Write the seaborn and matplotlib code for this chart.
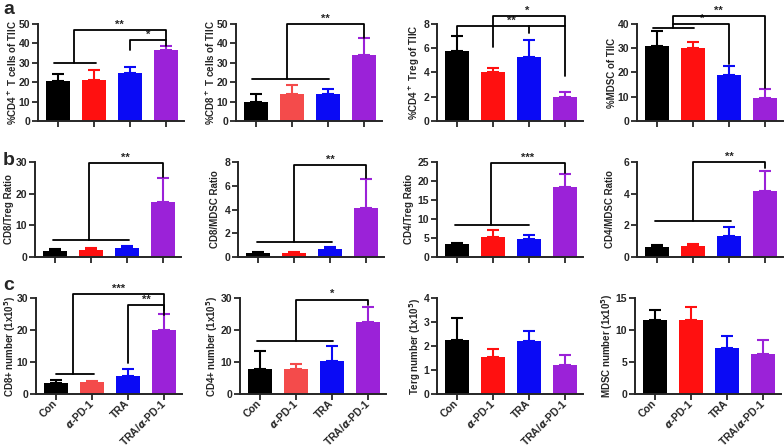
import numpy as np
import pandas as pd
import matplotlib
matplotlib.use("Agg")
import matplotlib.pyplot as plt
import seaborn as sns

groups = ["Con", "aPD1", "TRA", "TRA/aPD1"]
tick_labels = ["Con", r"$\alpha$-PD-1", "TRA", r"TRA/$\alpha$-PD-1"]

ylabels = [
    "%CD4$^+$ T cells of TIIC", "%CD8$^+$ T cells of TIIC",
    "%CD4$^+$ Treg of TIIC", "%MDSC of TIIC",
    "CD8/Treg Ratio", "CD8/MDSC Ratio", "CD4/Treg Ratio", "CD4/MDSC Ratio",
    "CD8+ number (1x10$^5$)", "CD4+ number (1x10$^5$)",
    "Terg number (1x10$^5$)", "MDSC number (1x10$^5$)",
]

means = [
    [20.5, 21.0, 24.5, 36.5],
    [10.0, 13.7, 14.0, 34.0],
    [5.8, 4.0, 5.25, 2.0],
    [30.8, 30.2, 18.8, 9.5],
    [1.8, 2.3, 2.7, 17.5],
    [0.3, 0.3, 0.7, 4.15],
    [3.5, 5.3, 4.8, 18.3],
    [0.65, 0.67, 1.35, 4.15],
    [3.3, 3.7, 5.7, 20.0],
    [7.8, 7.7, 10.2, 22.5],
    [2.25, 1.55, 2.22, 1.22],
    [11.5, 11.6, 7.2, 6.2],
]

errs = [
    [3.5, 5.5, 3.5, 2.0],
    [4.0, 5.0, 2.7, 9.0],
    [1.2, 0.35, 1.4, 0.4],
    [6.5, 2.5, 4.0, 3.8],
    [0.8, 0.4, 0.8, 7.5],
    [0.1, 0.1, 0.15, 2.45],
    [0.3, 1.7, 1.1, 3.5],
    [0.08, 0.15, 0.55, 1.3],
    [1.1, 0.4, 2.1, 5.0],
    [5.5, 1.6, 4.8, 4.8],
    [0.9, 0.33, 0.42, 0.42],
    [1.6, 2.0, 1.8, 2.2],
]

ymax = [50, 50, 8, 40, 30, 8, 25, 6, 30, 30, 4, 15]
ystep = [10, 10, 2, 10, 10, 2, 5, 2, 10, 10, 1, 5]
light_red = [1, 8, 9]

# significance brackets, in data coordinates of each panel
brackets = [
    [[(-0.1, 30), (1.07, 30)], [(0.45, 30), (0.45, 46.9), (3, 46.9), (3, 42)],
     [(2, 36.5), (2, 41.7), (3, 41.7), (3, 38.8)]],
    [[(-0.1, 21.5), (2.04, 21.5)], [(0.86, 21.5), (0.86, 50), (3, 50), (3, 43)]],
    [[(0, 7.09), (0, 7.83), (3, 7.83)], [(2, 7.23), (2, 7.83)],
     [(1, 6.12), (1, 8.66), (3, 8.66), (3, 3.7)]],
    [[(-0.1, 38.2), (1.04, 38.2)], [(0.44, 38.2), (0.44, 43.4), (3, 43.4), (3, 13.8)],
     [(0.44, 40), (2, 40), (2, 23.7)]],
    [[(-0.04, 5.45), (2.05, 5.45)], [(0.96, 5.45), (0.96, 29.6), (3, 29.6), (3, 25.4)]],
    [[(-0.02, 1.3), (2.06, 1.3)], [(1, 1.3), (1, 7.75), (3, 7.75), (3, 6.63)]],
    [[(-0.06, 8.3), (1.99, 8.3)], [(0.94, 8.3), (0.94, 24.65), (3, 24.65), (3, 22)]],
    [[(-0.05, 2.3), (2.05, 2.3)], [(1, 2.3), (1, 6.0), (3, 6.0), (3, 5.6)]],
    [[(0, 6.35), (1.06, 6.35)], [(0.49, 6.35), (0.49, 31.25), (3, 31.25), (3, 24.8)],
     [(2, 9.7), (2, 27.9), (3, 27.9), (3, 26.4)]],
    [[(-0.09, 16.5), (2.04, 16.5)], [(1, 16.5), (1, 29.5), (3, 29.5), (3, 27.9)]],
    [],
    [],
]
stars = [
    [(1.72, 47.0, "**"), (2.5, 41.8, "*")],
    [(1.93, 50.1, "**")],
    [(1.5, 7.86, "**"), (1.96, 8.69, "*")],
    [(1.71, 43.5, "**"), (1.25, 40.1, "*")],
    [(1.96, 29.7, "**")],
    [(2, 7.8, "**")],
    [(1.97, 24.7, "***")],
    [(2, 6.03, "**")],
    [(1.75, 31.3, "***"), (2.5, 28.0, "**")],
    [(2, 29.6, "*")],
    [],
    [],
]

sns.set_style("ticks")
plt.rcParams["font.family"] = ["Liberation Sans", "DejaVu Sans"]
plt.rcParams["font.weight"] = "bold"
plt.rcParams["axes.labelweight"] = "bold"

W, H = 784, 447
lefts = [[38, 236, 437, 637], [35, 238, 437, 637], [36, 240, 437, 635]]
rows_y = [(24, 121), (162, 257), (298, 394)]
# distance (px) from the y spine to the right edge of the y label
label_gap = [[19, 19, 15, 20], [21, 18, 23, 22], [18, 20, 14, 20]]
AX_W = 146

fig = plt.figure(figsize=(W / 100, H / 100), dpi=100)

for i in range(12):
    r, c = divmod(i, 4)
    top, bot = rows_y[r]
    ax = fig.add_axes([lefts[r][c] / W, 1 - bot / H, AX_W / W, (bot - top) / H])

    red = "#F44B4B" if i in light_red else "#FF1010"
    colors = ["#000000", red, "#0A0AF5", "#9B22D8"]

    df = pd.DataFrame({"group": groups, "value": means[i]})
    sns.barplot(data=df, x="group", y="value", hue="group", palette=colors,
                legend=False, width=0.67, saturation=1, linewidth=0, ax=ax)
    for k in range(4):
        ax.errorbar(k, means[i][k], yerr=[[0], [errs[i][k]]], fmt="none",
                    ecolor=colors[k], elinewidth=1.5, capsize=4.5, capthick=1.5,
                    zorder=1)

    ax.set_xlim(-0.55, 3.5)
    ax.set_ylim(0, ymax[i])
    ax.set_yticks(np.arange(0, ymax[i] + ystep[i] / 2, ystep[i]))
    ax.set_ylabel(ylabels[i], fontsize=7)
    ax.yaxis.set_label_coords(-label_gap[r][c] / AX_W, 0.5)
    ax.set_xlabel("")
    sns.despine(ax=ax)
    for s in ["left", "bottom"]:
        ax.spines[s].set_linewidth(1.4)
    ax.tick_params(width=1.3, length=4, labelsize=7.5, pad=1.5)
    ax.set_xticks(range(4))
    if r == 2:
        ax.set_xticklabels(tick_labels, rotation=45, ha="right", va="center",
                           rotation_mode="anchor", fontsize=7.5)
    else:
        ax.set_xticklabels([])

    for line in brackets[i]:
        xs, ys = zip(*line)
        ax.plot(xs, ys, color="black", lw=1.3, clip_on=False, zorder=5)
    for x, y, t in stars[i]:
        ax.text(x, y, t, ha="center", va="bottom", fontsize=8, clip_on=False)

for letter, y in [("a", 10), ("b", 160), ("c", 286)]:
    fig.text(3 / W, 1 - y / H, letter, fontsize=14, fontweight="bold", va="center")

fig.savefig("out.png", dpi=100)
